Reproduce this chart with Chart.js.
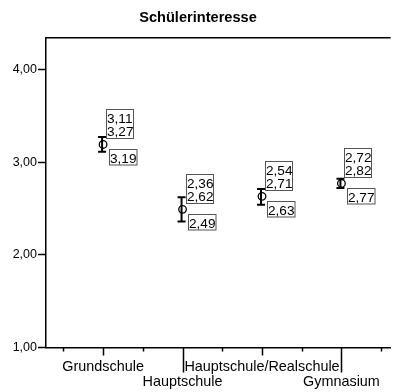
<!DOCTYPE html>
<html>
<head>
<meta charset="utf-8">
<script src="https://cdn.jsdelivr.net/npm/chart.js@4.4.0/dist/chart.umd.min.js"></script>
<style>
  body { margin: 0; background: #fff; }
  canvas { display: block; }
</style>
</head>
<body>
<canvas id="myChart" width="396" height="392"></canvas>
<script>
const categories = ['Grundschule', 'Hauptschule', 'Hauptschule/Realschule', 'Gymnasium'];
const means = [3.19, 2.49, 2.63, 2.77];
const lowerCI = [3.11, 2.36, 2.54, 2.72];
const upperCI = [3.27, 2.62, 2.71, 2.82];
const yTicks = [1, 2, 3, 4];

const FONT = '"Liberation Sans", Arial, sans-serif';

function fmt(v) {
    return v.toFixed(2).replace('.', ',');
}

// vertical CI bars with caps, under the mean markers
const errorBars = {
    id: 'errorBars',
    beforeDatasetsDraw(chart) {
        const ctx = chart.ctx;
        const x = chart.scales.x, y = chart.scales.y;
        ctx.save();
        ctx.strokeStyle = '#000';
        ctx.lineWidth = 2;
        for (let i = 0; i < categories.length; i++) {
            const px = x.getPixelForValue(i) - 1;
            const top = y.getPixelForValue(upperCI[i]);
            const bot = y.getPixelForValue(lowerCI[i]);
            ctx.beginPath();
            ctx.moveTo(px, top);
            ctx.lineTo(px, bot);
            ctx.moveTo(px - 4, top);
            ctx.lineTo(px + 4, top);
            ctx.moveTo(px - 4, bot);
            ctx.lineTo(px + 4, bot);
            ctx.stroke();
        }
        ctx.restore();
    }
};

// value boxes, the top frame line and the category tick marks
const extras = {
    id: 'extras',
    afterDraw(chart) {
        const ctx = chart.ctx;
        const x = chart.scales.x, y = chart.scales.y;
        const area = chart.chartArea;
        ctx.save();

        ctx.strokeStyle = '#000';
        ctx.lineWidth = 1.5;
        ctx.beginPath();
        ctx.moveTo(area.left, area.top);
        ctx.lineTo(area.right, area.top);
        for (let i = -0.5; i < categories.length; i += 0.5) {
            const px = Math.round(x.getPixelForValue(i)) + 0.5;
            let len = 4;
            if (Number.isInteger(i)) len = i % 2 ? 25 : 8;
            ctx.moveTo(px, area.bottom);
            ctx.lineTo(px, area.bottom + len);
        }
        ctx.stroke();

        ctx.font = '13.6px ' + FONT;
        ctx.textBaseline = 'alphabetic';
        ctx.fillStyle = '#000';
        ctx.strokeStyle = '#555';
        ctx.lineWidth = 1;
        for (let i = 0; i < categories.length; i++) {
            const bx = x.getPixelForValue(i) - 1;
            const my = y.getPixelForValue(means[i]);
            const ux = Math.round(bx + 4), ut = Math.round(my - 6.5 - 29);
            ctx.strokeRect(ux + 0.5, ut + 0.5, 27, 29);
            ctx.fillText(fmt(lowerCI[i]), ux + 1, ut + 13.5);
            ctx.fillText(fmt(upperCI[i]), ux + 1, ut + 27);
            const lx = Math.round(bx + 6.5), lt = Math.round(my + 5);
            ctx.strokeRect(lx + 0.5, lt + 0.5, 27.5, 15.5);
            ctx.fillText(fmt(means[i]), lx + 1, lt + 13.5);
        }
        ctx.restore();
    }
};

const chart = new Chart(document.getElementById('myChart'), {
    type: 'scatter',
    data: {
        datasets: [{
            data: means.map((m, i) => ({ x: i, y: m })),
            pointStyle: 'circle',
            pointRadius: 3.8,
            pointBorderWidth: 1.3,
            borderColor: '#000',
            backgroundColor: 'rgba(0,0,0,0)',
            showLine: false
        }]
    },
    options: {
        responsive: false,
        animation: false,
        devicePixelRatio: 1,
        layout: { padding: 0 },
        plugins: {
            legend: { display: false },
            tooltip: { enabled: false },
            title: {
                display: true,
                text: 'Schülerinteresse',
                color: '#000',
                font: { family: FONT, size: 14.6, weight: 'bold' },
                padding: { top: 9, bottom: 11.3 }
            }
        },
        scales: {
            x: {
                type: 'linear',
                min: -0.725,
                max: 3.62,
                afterBuildTicks: (axis) => {
                    axis.ticks = categories.map((c, i) => ({ value: i }));
                },
                afterFit: (axis) => { axis.height = 44.5; },
                ticks: {
                    autoSkip: false,
                    maxRotation: 0,
                    minRotation: 0,
                    padding: 11.7,
                    color: '#000',
                    font: { family: FONT, size: 14.4, lineHeight: '15px' },
                    callback: (v) => (v % 2 ? ['', categories[v]] : categories[v])
                },
                grid: { display: false, drawTicks: false },
                border: { display: true, color: '#000', width: 1.5 }
            },
            y: {
                min: 1,
                max: 4.34,
                afterBuildTicks: (axis) => {
                    axis.ticks = yTicks.map(v => ({ value: v }));
                },
                afterFit: (axis) => { axis.width = 45.5; },
                ticks: {
                    padding: 1,
                    color: '#000',
                    font: { family: FONT, size: 12.5 },
                    callback: (v) => fmt(v)
                },
                grid: {
                    drawOnChartArea: false,
                    drawTicks: true,
                    tickLength: 7.5,
                    tickColor: '#000',
                    tickWidth: 1.5
                },
                border: { display: true, color: '#000', width: 1.5 }
            }
        }
    },
    plugins: [errorBars, extras]
});
</script>
</body>
</html>
